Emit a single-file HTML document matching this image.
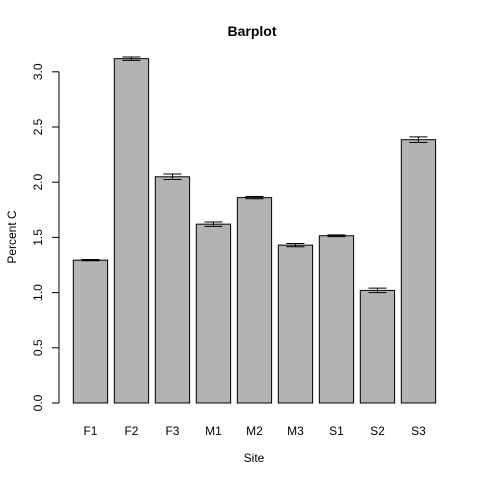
<!DOCTYPE html>
<html><head><meta charset="utf-8"><style>body{margin:0;background:#fff}svg{display:block;font-family:"Liberation Sans",Arial,sans-serif}</style></head>
<body>
<svg id="chart" width="480" height="480" viewBox="0 0 480 480">
<text x="252" y="36" text-anchor="middle" font-size="14" font-weight="bold">Barplot</text>
<text x="254" y="462" text-anchor="middle" font-size="12">Site</text>
<text transform="translate(16,237) rotate(-90)" text-anchor="middle" font-size="12">Percent C</text>
<g id="yaxis"></g>
<g id="bars"></g>
<g id="xlabels"></g>
</svg>
<script>
const categories = ["F1","F2","F3","M1","M2","M3","S1","S2","S3"];
const values = [1.294, 3.119, 2.049, 1.62, 1.86, 1.43, 1.515, 1.02, 2.385];
const errors = [0.006, 0.015, 0.025, 0.02, 0.01, 0.015, 0.008, 0.02, 0.025];
const yTicks = [0, 0.5, 1, 1.5, 2, 2.5, 3];
const yTickLabels = ["0.0","0.5","1.0","1.5","2.0","2.5","3.0"];
const NS = "http://www.w3.org/2000/svg";
const y0 = 403, pxPerUnit = 110.4;
function yScale(v){ return y0 - v*pxPerUnit; }
function xLeft(i){ return 73.3 + 41*i; }
const bw = 34.3;
function mk(tag, attrs, parent){ const e=document.createElementNS(NS,tag); for(const k in attrs) e.setAttribute(k,attrs[k]); parent.appendChild(e); return e; }
const ya = document.getElementById('yaxis');
const axl = mk('line',{x1:59,x2:59,y1:yScale(yTicks[0]),y2:yScale(yTicks[yTicks.length-1]),stroke:'#000'},ya);


yTicks.forEach((t,i)=>{
  const y=yScale(t);
  const tk=mk('line',{x1:52,x2:59,y1:y,y2:y,stroke:'#000'},ya);
  
  
  const tl=mk('text',{transform:`translate(42,${y}) rotate(-90)`,'text-anchor':'middle','font-size':'12'},ya);
  
  
  tl.textContent=yTickLabels[i];
});
const bg=document.getElementById('bars'), xg=document.getElementById('xlabels');
categories.forEach((c,i)=>{
  const x=xLeft(i), top=yScale(values[i]);
  const r=mk('rect',{x:x,y:top,width:bw,height:y0-top,fill:'#b3b3b3',stroke:'#000','stroke-width':1},bg);
  
  
  const cx=x+bw/2, hi=yScale(values[i]+errors[i]), lo=yScale(values[i]-errors[i]);
  const eb=mk('path',{d:`M${cx},${hi}V${lo}M${cx-9},${hi}H${cx+9}M${cx-9},${lo}H${cx+9}`,stroke:'#000',fill:'none','stroke-width':1},bg);
  
  
  const t=mk('text',{x:cx,y:435,'text-anchor':'middle','font-size':'12'},xg);
  
  
  t.textContent=c;
});
</script>
</body></html>
